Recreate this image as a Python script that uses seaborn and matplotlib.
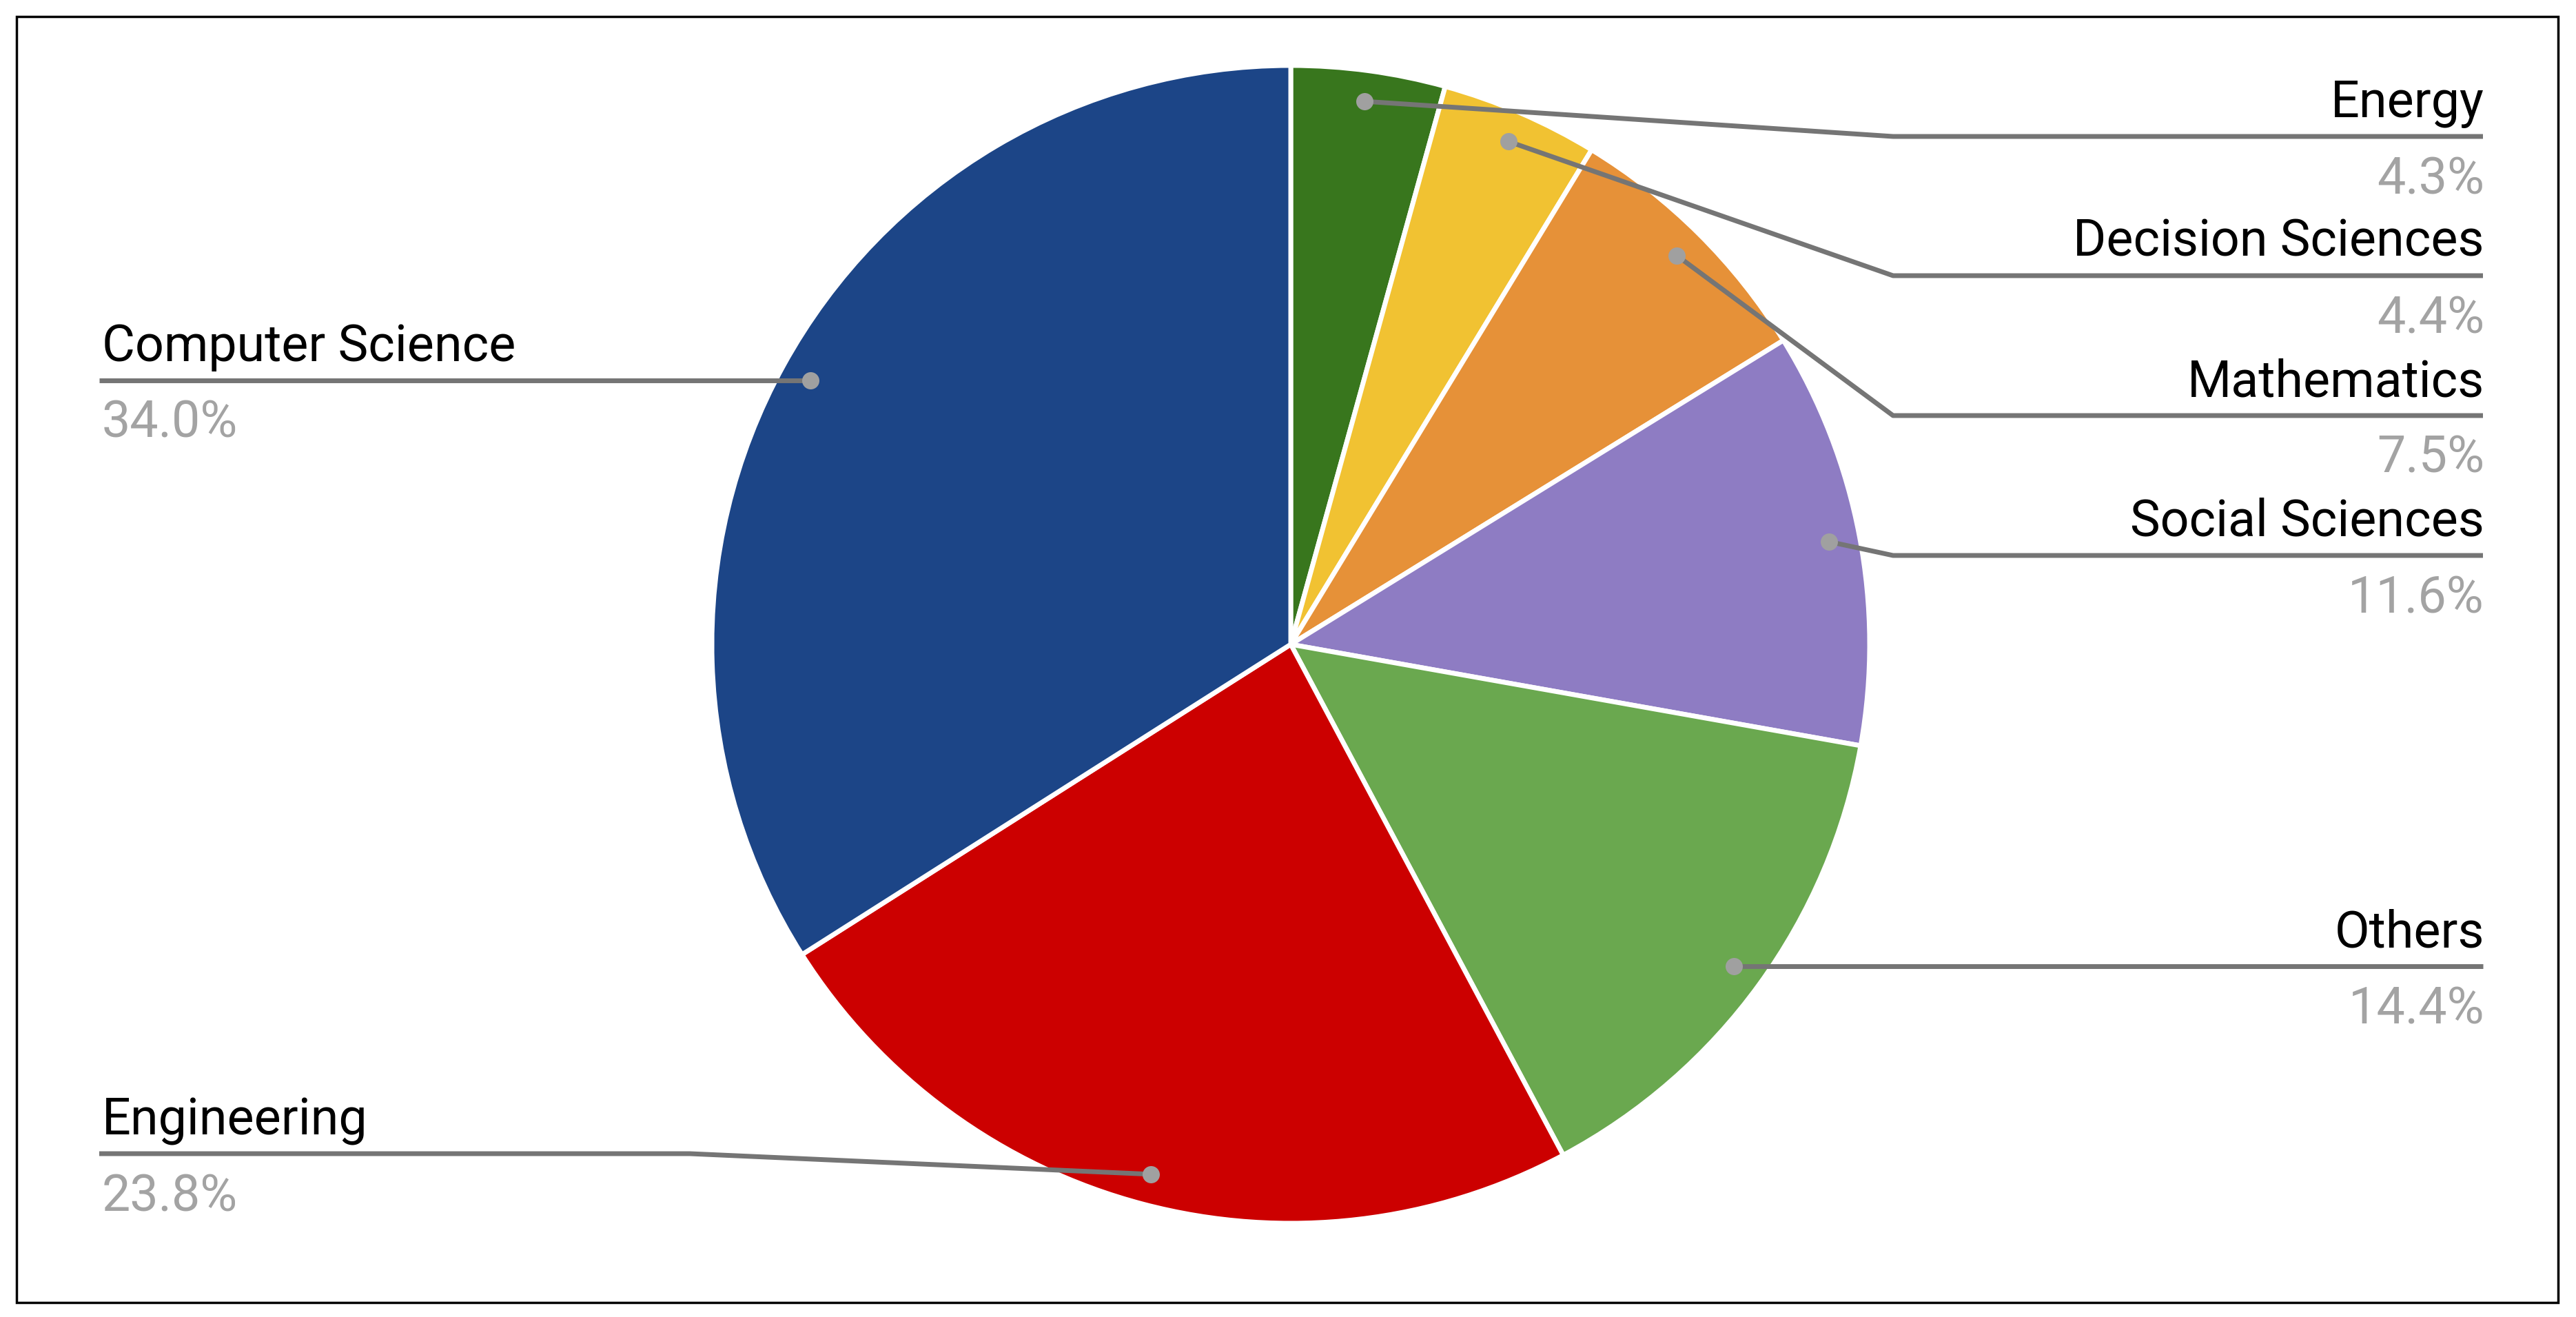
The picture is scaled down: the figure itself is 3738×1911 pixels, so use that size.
import numpy as np
import matplotlib
matplotlib.use("Agg")
import matplotlib.pyplot as plt
from matplotlib.patches import Rectangle
import seaborn as sns

sns.set_style("white")
plt.rcParams['font.family'] = ['Roboto', 'DejaVu Sans']

# data, clockwise from 12 o'clock
categories = ["Energy", "Decision Sciences", "Mathematics", "Social Sciences",
              "Others", "Engineering", "Computer Science"]
shares = [4.3, 4.4, 7.5, 11.6, 14.4, 23.8, 34.0]
colors = ["#38761d", "#f1c232", "#e69138", "#8e7cc3", "#6aa84f", "#cc0000", "#1c4587"]

# label layout (pixel rows of the label underline, None = straight from the dot)
label_side = ["right", "right", "right", "right", "right", "left", "left"]
label_row = [198, 400, 603, 806, None, 1674, None]

W, H = 3738, 1911
CX, CY, R = 1873, 935, 840


def fy(y):
    # pixel row (from top) -> data y
    return H - y


fig = plt.figure(figsize=(W / 100, H / 100), dpi=100)
ax = fig.add_axes([0, 0, 1, 1])

wedges, _ = ax.pie(shares, colors=colors, startangle=90, counterclock=False,
                   center=(CX, fy(CY)), radius=R,
                   wedgeprops=dict(edgecolor="white", linewidth=5))

line_col = "#757575"
dot_col = "#a0a0a0"
pct_col = "#a3a3a3"

for w, name, val, side, row in zip(wedges, categories, shares, label_side, label_row):
    mid = np.deg2rad((w.theta1 + w.theta2) / 2)
    dx = CX + 0.95 * (R - 3) * np.cos(mid)
    dy = fy(CY) + 0.95 * (R - 3) * np.sin(mid)
    ly = dy if row is None else fy(row)
    if side == "right":
        elbow_x, end_x, ha = 2747, 3603, "right"
    else:
        elbow_x, end_x, ha = 1001, 144, "left"
    xs = [dx, end_x] if row is None else [dx, elbow_x, end_x]
    ys = [dy, ly] if row is None else [dy, ly, ly]
    ax.plot(xs, ys, color=line_col, lw=5, solid_capstyle="butt", zorder=3)
    ax.plot([dx], [dy], "o", ms=18, color=dot_col, mec="none", zorder=4)
    tx = end_x + 2 if side == "right" else end_x + 4
    ax.text(tx, ly + 28, name, ha=ha, va="baseline", fontsize=53, color="black")
    ax.text(tx, ly - 83, f"{val:.1f}%", ha=ha, va="baseline", fontsize=53, color=pct_col)

ax.add_patch(Rectangle((24, fy(1890)), 3712 - 24, 1890 - 24, fill=False,
                       edgecolor="black", lw=2.5, zorder=5))

ax.set_xlim(0, W)
ax.set_ylim(0, H)
ax.set_aspect("equal")
ax.axis("off")

fig.savefig("out.png", dpi=100, facecolor="white")
